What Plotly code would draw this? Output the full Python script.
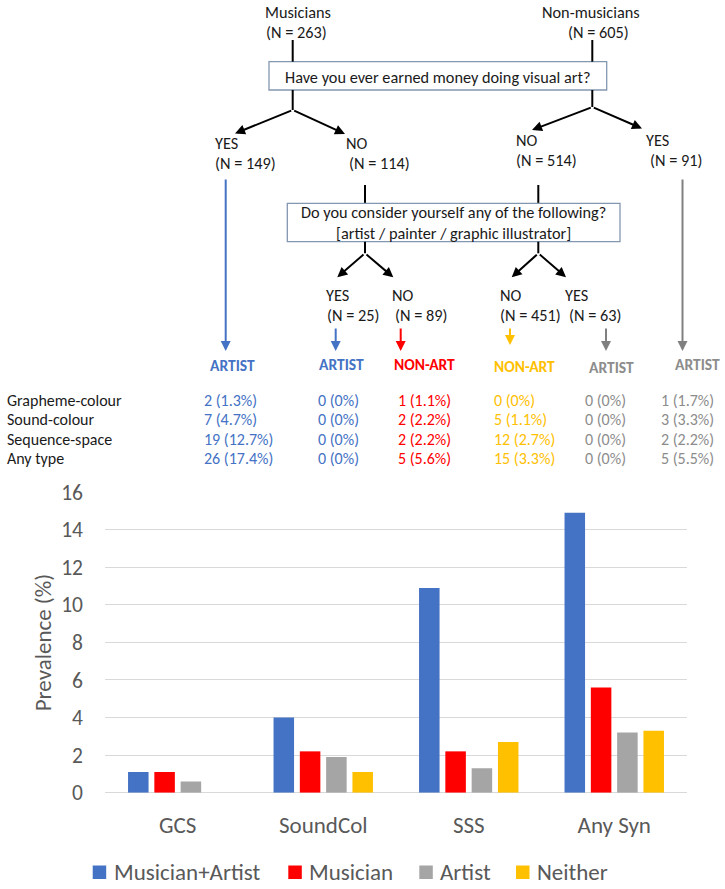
import plotly.graph_objects as go

# ---------------- data ----------------
categories = ["GCS", "SoundCol", "SSS", "Any Syn"]
series_names = ["Musician+Artist", "Musician", "Artist", "Neither"]
musician_artist = [1.1, 4.0, 10.9, 14.9]
musician = [1.1, 2.2, 2.2, 5.6]
artist = [0.6, 1.9, 1.3, 3.2]
neither = [0.0, 1.1, 2.7, 3.3]
y_ticks = [0, 2, 4, 6, 8, 10, 12, 14, 16]

row_labels = ["Grapheme-colour", "Sound-colour", "Sequence-space", "Any type"]
group_headers = ["ARTIST", "ARTIST", "NON-ART", "NON-ART", "ARTIST", "ARTIST"]
col_musart_yes = ["2 (1.3%)", "7 (4.7%)", "19 (12.7%)", "26 (17.4%)"]
col_mus_artist = ["0 (0%)", "0 (0%)", "0 (0%)", "0 (0%)"]
col_mus_nonart = ["1 (1.1%)", "2 (2.2%)", "2 (2.2%)", "5 (5.6%)"]
col_non_nonart = ["0 (0%)", "5 (1.1%)", "12 (2.7%)", "15 (3.3%)"]
col_non_artist = ["0 (0%)", "0 (0%)", "0 (0%)", "0 (0%)"]
col_non_yes = ["1 (1.7%)", "3 (3.3%)", "2 (2.2%)", "5 (5.5%)"]

top_groups = [("Musicians", "(N = 263)"), ("Non-musicians", "(N = 605)")]
question1 = "Have you ever earned money doing visual art?"
question2 = "Do you consider yourself any of the following?<br>[artist / painter / graphic illustrator]"
level1 = [("YES", "(N = 149)"), ("NO", "(N = 114)"), ("NO", "(N = 514)"), ("YES", "(N = 91)")]
level2 = [("YES", "(N = 25)"), ("NO", "(N = 89)"), ("NO", "(N = 451)"), ("YES", "(N = 63)")]

# ---------------- style ----------------
FONT = "Carlito, Lato, sans-serif"
BLUE, RED, GRAY, YELLOW = "#4472C4", "#FF0000", "#A5A5A5", "#FFC000"
TGRAY = "#8C8C8C"
AXIS_TXT = "#595959"
W, H = 725, 889
TREE_FS = 16.3
TABLE_FS = 16

fig = go.Figure()
for name, vals, col in zip(series_names, [musician_artist, musician, artist, neither],
                           [BLUE, RED, GRAY, YELLOW]):
    fig.add_trace(go.Bar(x=categories, y=vals, name=name, marker_color=col,
                         marker_line_width=0, showlegend=False,
                         xaxis="x", yaxis="y"))
# helper (pixel-space) overlay subplot
fig.add_trace(go.Scatter(x=[], y=[], xaxis="x2", yaxis="y2", showlegend=False))

shapes = []
anns = []


def txt(x, y, s, size=TREE_FS, color="#1a1a1a", anchor="left", bold=False, angle=0):
    if bold:
        s = "<b>" + s + "</b>"
    anns.append(dict(x=x, y=y, xref="x2", yref="y2", text=s, showarrow=False,
                     xanchor=anchor, yanchor="middle", textangle=angle,
                     font=dict(family=FONT, size=size, color=color)))


def line(x0, y0, x1, y1, color="black", width=2):
    shapes.append(dict(type="line", x0=x0, y0=y0, x1=x1, y1=y1, xref="x2", yref="y2",
                       line=dict(color=color, width=width)))


def arrow(x0, y0, x1, y1, color="black", width=2, size=1.0):
    anns.append(dict(x=x1, y=y1, ax=x0, ay=y0, xref="x2", yref="y2", axref="x2",
                     ayref="y2", text="", showarrow=True, arrowhead=2,
                     arrowsize=size, arrowwidth=width, arrowcolor=color,
                     standoff=0, startstandoff=0))


# ---- top headers ----
txt(297.7, 11.7, top_groups[0][0], anchor="center")
txt(296.7, 31.7, top_groups[0][1], anchor="center")
txt(591, 11.7, top_groups[1][0], anchor="center")
txt(598, 31.7, top_groups[1][1], anchor="center")

# question box 1
shapes.append(dict(type="rect", x0=269, y0=61.7, x1=606.7, y1=90, xref="x2", yref="y2",
                   line=dict(color="#8497B0", width=1.3), fillcolor="white"))
txt(437.7, 76.5, question1, anchor="center")
line(292.7, 40, 292.7, 61.7)
line(292.7, 90, 292.7, 110)
line(592.3, 40, 592.3, 61.7)
line(592.3, 90, 592.3, 107)
arrow(292.7, 110, 235, 133.5)
arrow(292.7, 110, 345, 134)
arrow(592.3, 107, 532, 130)
arrow(592.3, 107, 642, 128.5)

# level 1 labels
for (a, b), (x1, x2, y) in zip(level1, [(213.3, 213, 143.3), (344, 347.3, 143.3),
                                         (514, 514, 140), (644, 648.3, 140)]):
    txt(x1, y, a)
    txt(x2, y + 20, b)

# question box 2
line(365, 185, 365, 203.3)
line(538.3, 185, 538.3, 203.3)
shapes.append(dict(type="rect", x0=287.3, y0=203.3, x1=620, y1=241.7, xref="x2", yref="y2",
                   line=dict(color="#8497B0", width=1.3), fillcolor="white"))
txt(453, 222.5, question2, anchor="center")
line(365, 241.7, 365, 253.3)
line(538.3, 241.7, 538.3, 253.3)
arrow(365, 253.3, 337.3, 277.3)
arrow(365, 253.3, 393.3, 277.3)
arrow(538.3, 253.3, 511.7, 277.3)
arrow(538.3, 253.3, 566, 277.3)

for (a, b), (x1, x2) in zip(level2, [(324, 325), (390, 393.3), (498.3, 498.3), (563.3, 566.7)]):
    txt(x1, 295, a)
    txt(x2, 315, b)

# long and short coloured arrows
arrow(225.7, 178, 225.7, 351, color=BLUE, width=2)
arrow(682.5, 178, 682.5, 351, color="#808080", width=2)
arrow(335.7, 327, 335.7, 351, color=BLUE, width=2)
arrow(400.7, 327, 400.7, 351, color=RED, width=2)
arrow(510, 327, 510, 345, color=YELLOW, width=2)
arrow(606, 327, 606, 351, color="#808080", width=2)

# group headers
hdr_x = [232.5, 341.2, 424.7, 524.3, 611.2, 697]
hdr_y = [365, 364, 364, 366, 367, 364]
col_colors = [BLUE, BLUE, RED, YELLOW, TGRAY, TGRAY]
for h, x, y, c in zip(group_headers, hdr_x, hdr_y, col_colors):
    txt(x, y, h, size=15.5, color=c, anchor="center", bold=True)

# table
row_y = [400, 419.3, 439, 458.3]
for lab, y in zip(row_labels, row_y):
    txt(5, y, lab, size=TABLE_FS)
col_x = [201.7, 316.3, 395.5, 491.5, 583, 659]
columns = [col_musart_yes, col_mus_artist, col_mus_nonart, col_non_nonart,
           col_non_artist, col_non_yes]
for vals, x, c in zip(columns, col_x, col_colors):
    for v, y in zip(vals, row_y):
        txt(x, y, v, size=TABLE_FS, color=c)

# y-axis title
txt(43.3, 642, "Prevalence (%)", size=23, color=AXIS_TXT, anchor="center", angle=-90)

# manual legend
leg_sq_x = [92.7, 288.3, 419.3, 516]
for name, x, c in zip(series_names, leg_sq_x, [BLUE, RED, GRAY, YELLOW]):
    shapes.append(dict(type="rect", x0=x, y0=865.5, x1=x + 13.5, y1=879, xref="x2", yref="y2",
                       line=dict(width=0), fillcolor=c))
    txt(x + 19, 872, name, size=23, color=AXIS_TXT)

fig.update_layout(
    width=W, height=H,
    margin=dict(l=0, r=0, t=0, b=0, pad=0, autoexpand=False),
    paper_bgcolor="white", plot_bgcolor="rgba(0,0,0,0)",
    barmode="group", bargap=0.277, bargroupgap=0.22,
    font=dict(family=FONT, color=AXIS_TXT),
    showlegend=False,
    xaxis=dict(domain=[105 / W, 687 / W], anchor="y", showgrid=False, showline=False,
               zeroline=False, ticks="", tickfont=dict(size=23, color=AXIS_TXT),
               ticklabelstandoff=16, fixedrange=True, automargin=False),
    yaxis=dict(domain=[96.3 / H, 397.3 / H], anchor="x", range=[0, 16.02],
               tickvals=y_ticks, showgrid=True, gridcolor="#D9D9D9", gridwidth=1,
               zeroline=True, zerolinecolor="#D9D9D9", zerolinewidth=1,
               showline=False, ticks="", tickfont=dict(size=21.5, color=AXIS_TXT),
               ticklabelstandoff=21, fixedrange=True, automargin=False),
    xaxis2=dict(domain=[0, 1], range=[0, W], anchor="y2", visible=False, fixedrange=True,
                automargin=False),
    yaxis2=dict(domain=[0, 1], range=[H, 0], anchor="x2", visible=False, fixedrange=True,
                automargin=False),
    shapes=shapes,
    annotations=anns,
)

fig.write_html("out.html")
